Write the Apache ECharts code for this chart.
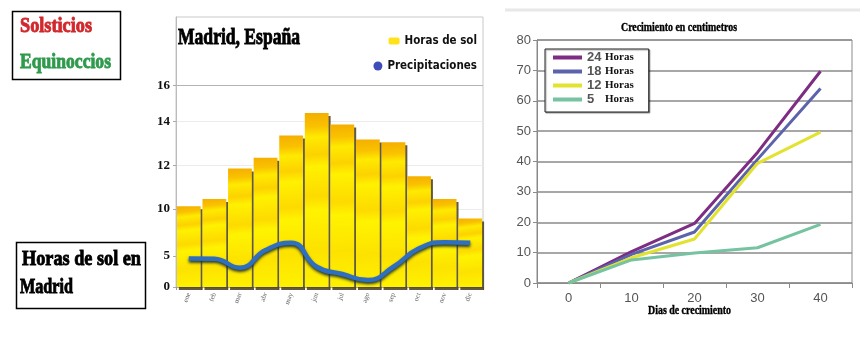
<!DOCTYPE html>
<html>
<head>
<meta charset="utf-8">
<script src="https://cdn.jsdelivr.net/npm/echarts@6/dist/echarts.min.js"></script>
<style>html,body{margin:0;padding:0;background:#fff}#c{width:868px;height:364px}</style>
</head>
<body>
<div id="c"></div>
<script>
// ---- Left chart data (Madrid) ----
const months = ['ene','feb','mar','abr','may','jun','jul','ago','sep','oct','nov','dic'];
const solHours = [6.42, 6.99, 9.40, 10.27, 12.04, 13.81, 12.91, 11.72, 11.49, 8.79, 6.99, 5.44];
const precip = [2.27, 2.24, 1.53, 2.93, 3.51, 1.61, 1.03, 0.55, 1.61, 3.07, 3.56, 3.51];
const leftTickPos = [0, 2.46, 6.19, 9.63, 13.13, 16];
const leftTickText = ['0', '5', '10', '12', '14', '16'];
// ---- Right chart data (growth) ----
const days = ['0', '10', '20', '30', '40'];
const h24 = [0, 10.3, 19.6, 43, 69.7];
const h18 = [0, 9.4, 16.8, 40.7, 64];
const h12 = [0, 8.3, 14.5, 39.4, 49.7];
const h5 = [0, 7.6, 9.9, 11.6, 19.3];
const growthNames = ['24', '18', '12', '5'];

const SERIF = '"Liberation Serif", "DejaVu Serif", serif';
const NARROW = '"Liberation Sans Narrow", "DejaVu Sans Condensed", sans-serif';
const mctx = document.createElement('canvas').getContext('2d');
function fitText(txt, x, yc, w, size, color, sw) {
  const font = 'bold ' + size + 'px ' + SERIF;
  mctx.font = font;
  const mw = mctx.measureText(txt).width;
  return {type: 'text', x: x, y: yc, scaleX: w / mw, z: 100,
    style: {text: txt, font: font, fill: color, stroke: color, lineWidth: sw === undefined ? 0.9 : sw, verticalAlign: 'middle'}};
}

const chart = echarts.init(document.getElementById('c'), null, {renderer: 'canvas'});
const barGrad = new echarts.graphic.LinearGradient(0, 0, 0.35, 1, [
  {offset: 0, color: '#f5ae00'}, {offset: 0.08, color: '#f9c200'},
  {offset: 0.14, color: '#ffea00'}, {offset: 0.24, color: '#fcd200'},
  {offset: 0.31, color: '#fff100'}, {offset: 0.48, color: '#fdda00'},
  {offset: 0.56, color: '#fff300'}, {offset: 0.78, color: '#fde200'},
  {offset: 1, color: '#fff100'}
]);

const option = {
  animation: false,
  backgroundColor: '#fff',
  grid: [
    {left: 176, right: 385, top: 17, bottom: 77, show: true, borderColor: '#c9c9c9', borderWidth: 1},
    {left: 537, right: 16, top: 40, bottom: 81, show: true, borderColor: '#8a8a8a', borderWidth: 1}
  ],
  xAxis: [
    {type: 'category', gridIndex: 0, data: months, boundaryGap: true,
      axisLine: {lineStyle: {color: '#aaa'}},
      axisTick: {show: true, length: 3, lineStyle: {color: '#999'}},
      axisLabel: {rotate: 70, fontSize: 7, color: '#666', margin: 6, fontFamily: SERIF}},
    {type: 'category', gridIndex: 1, data: days, boundaryGap: true,
      axisLine: {lineStyle: {color: '#8a8a8a'}},
      axisTick: {show: true, length: 5, lineStyle: {color: '#8a8a8a'}},
      axisLabel: {fontSize: 13, color: '#555', margin: 9, fontFamily: '"Liberation Sans", Arial, sans-serif'}}
  ],
  yAxis: [
    {type: 'value', gridIndex: 0, min: 0, max: 21.44, interval: 16 / 3,
      axisLine: {show: true, lineStyle: {color: '#bbb'}},
      axisTick: {show: true, length: 3, customValues: leftTickPos, lineStyle: {color: '#aaa'}},
      splitLine: {lineStyle: {color: '#ececec', width: 1}},
      axisLabel: {customValues: leftTickPos, margin: 6, color: '#111', fontSize: 13, fontWeight: 'bold', fontFamily: SERIF,
        formatter: function (v) { const i = leftTickPos.indexOf(v); return i >= 0 ? leftTickText[i] : ''; }}},
    {type: 'value', gridIndex: 1, min: 0, max: 80, interval: 10,
      axisLine: {show: true, lineStyle: {color: '#8a8a8a'}},
      axisTick: {show: true, length: 4, lineStyle: {color: '#8a8a8a'}},
      splitLine: {lineStyle: {color: '#8a8a8a', width: 1.5}},
      axisLabel: {fontSize: 13, color: '#555', margin: 6, fontFamily: '"Liberation Sans", Arial, sans-serif'}}
  ],
  legend: [
    {right: 391, top: 35, padding: 0, itemWidth: 11, itemHeight: 7, itemGap: 6,
      data: [{name: 'Horas de sol', icon: 'roundRect', itemStyle: {color: '#ffe21a'}}],
      textStyle: {fontSize: 11.5, fontWeight: 'bold', color: '#111', fontFamily: NARROW}},
    {right: 391, top: 60, padding: 0, itemWidth: 9, itemHeight: 9, itemGap: 6,
      data: [{name: 'Precipitaciones', icon: 'circle', itemStyle: {color: '#3e4db8'}}],
      textStyle: {fontSize: 11.5, fontWeight: 'bold', color: '#111', fontFamily: NARROW}},
    {left: 545, top: 49, orient: 'vertical', padding: [2, 15, 6, 8], itemWidth: 29, itemHeight: 4, itemGap: 1,
      icon: 'rect', data: growthNames, backgroundColor: '#fff', borderColor: '#222', borderWidth: 1,
      shadowColor: 'rgba(0,0,0,0.35)', shadowOffsetX: 1, shadowOffsetY: 1, shadowBlur: 1,
      formatter: function (n) { return '{n|' + n + '}{h|Horas}'; },
      textStyle: {rich: {
        n: {fontSize: 13, fontWeight: 'bold', color: '#555', fontFamily: '"Liberation Sans", Arial, sans-serif', width: 18, lineHeight: 14},
        h: {fontSize: 11, fontWeight: 'bold', color: '#111', fontFamily: SERIF, lineHeight: 14}
      }}}
  ],
  series: [
    {name: 'Horas de sol', type: 'bar', xAxisIndex: 0, yAxisIndex: 0, data: solHours,
      barCategoryGap: '7%',
      itemStyle: {color: barGrad, shadowColor: 'rgba(70,60,30,0.85)', shadowOffsetX: 2, shadowOffsetY: 3, shadowBlur: 0},
      markLine: {silent: true, symbol: 'none', label: {show: false},
        lineStyle: {color: '#b4b4b4', type: 'solid', width: 1.2}, data: [{yAxis: 16}]}},
    {name: 'Precipitaciones', type: 'line', xAxisIndex: 0, yAxisIndex: 0, data: precip,
      smooth: 0.5, showSymbol: false, symbol: 'none',
      lineStyle: {color: '#2f6fc2', width: 4.5, shadowColor: 'rgba(25,45,45,0.95)', shadowBlur: 3, shadowOffsetY: 2}},
    {name: '24', type: 'line', xAxisIndex: 1, yAxisIndex: 1, data: h24, showSymbol: false, symbol: 'none',
      color: '#7d2d82', lineStyle: {width: 3}},
    {name: '18', type: 'line', xAxisIndex: 1, yAxisIndex: 1, data: h18, showSymbol: false, symbol: 'none',
      color: '#5a63ab', lineStyle: {width: 3}},
    {name: '12', type: 'line', xAxisIndex: 1, yAxisIndex: 1, data: h12, showSymbol: false, symbol: 'none',
      color: '#e2e230', lineStyle: {width: 3}},
    {name: '5', type: 'line', xAxisIndex: 1, yAxisIndex: 1, data: h5, showSymbol: false, symbol: 'none',
      color: '#76c3a1', lineStyle: {width: 3}}
  ],
  graphic: [
    {type: 'rect', shape: {x: 12.5, y: 11.5, width: 108, height: 68}, style: {fill: '#fff', stroke: '#000', lineWidth: 1.5}, z: 90},
    fitText('Solsticios', 20, 26, 72, 22, '#d0282c'),
    fitText('Equinoccios', 20, 62, 91, 22, '#2f9a4c'),
    {type: 'rect', shape: {x: 16.5, y: 242.5, width: 129, height: 66}, style: {fill: '#fff', stroke: '#000', lineWidth: 1.5}, z: 90},
    fitText('Horas de sol en', 22, 259, 119, 22, '#000'),
    fitText('Madrid', 20, 287, 53, 22, '#000'),
    fitText('Madrid, España', 178, 38, 122, 23, '#000'),
    fitText('Crecimiento en centimetros', 621, 28, 116, 13, '#000', 0.4),
    fitText('Dias de crecimiento', 648, 311, 83, 13, '#000', 0.4),
    {type: 'line', shape: {x1: 505, y1: 10, x2: 860, y2: 10}, style: {stroke: '#e8e8e8', lineWidth: 3}, z: 1}
  ]
};
chart.setOption(option);
</script>
</body>
</html>
